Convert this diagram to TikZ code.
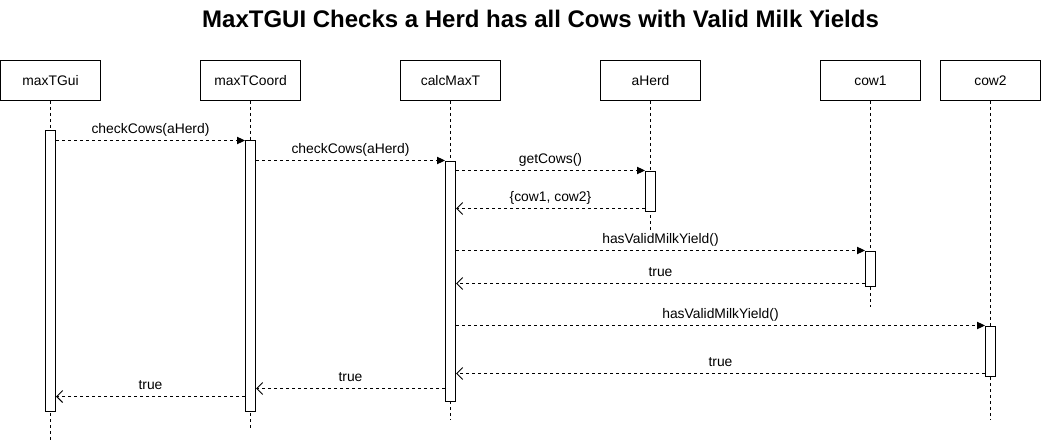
\documentclass[tikz,border=0pt]{standalone}
\usepackage{fontspec}
\setmainfont{Liberation Sans}
\usetikzlibrary{arrows.meta}
\begin{document}
\begin{tikzpicture}[x=0.75pt,y=-0.75pt,
  every node/.style={font=\fontsize{10.4pt}{12pt}\selectfont},
  part/.style={draw,line width=0.75pt,minimum width=75pt,minimum height=30pt,inner sep=0pt,fill=white},
  act/.style={draw,line width=0.75pt,minimum width=7.5pt,inner sep=0pt,fill=white,anchor=north},
  life/.style={line width=0.75pt,dash pattern=on 2.25pt off 2.25pt},
  call/.style={line width=0.75pt,dash pattern=on 2.25pt off 2.25pt,-{Triangle[length=6pt,width=5.5pt]}},
  ret/.style={line width=0.75pt,dash pattern=on 2.25pt off 2.25pt,-{Straight Barb[length=4.5pt,width=9pt]}},
  lbl/.style={midway,above=3pt,inner sep=0pt,text depth=2.2pt}]
\useasboundingbox (0,0) rectangle (1041,442);
\node[font=\bfseries\fontsize{18pt}{21pt}\selectfont] (title) at (540.5,19) {MaxTGUI Checks a Herd has all Cows with Valid Milk Yields};
% participants
\node[part] (p1) at (50.5,80.5) {maxTGui};
\node[part] (p2) at (250.5,80.5) {maxTCoord};
\node[part] (p3) at (450.5,80.5) {calcMaxT};
\node[part] (p4) at (650.5,80.5) {aHerd};
\node[part] (p5) at (870.5,80.5) {cow1};
\node[part] (p6) at (990.5,80.5) {cow2};
% lifeline ends
\coordinate (e1) at (50.5,442);
\coordinate (e2) at (250.5,428);
\coordinate (e3) at (450.5,420);
\coordinate (e4) at (650.5,230);
\coordinate (e5) at (870.5,307);
\coordinate (e6) at (990.5,420);
\foreach \i in {1,...,6} \draw[life] (p\i.south) -- (e\i);
% activations
\node[act,minimum height=210pt] (a1) at (50.5,130.5) {};
\node[act,minimum height=202.5pt] (a2) at (250.5,140.5) {};
\node[act,minimum height=180pt] (a3) at (450.5,160.5) {};
\node[act,minimum height=30pt] (a4) at (650.5,170.5) {};
\node[act,minimum height=26.25pt] (a5) at (870.5,250.5) {};
\node[act,minimum height=37.5pt] (a6) at (990.5,325.5) {};
% messages
\draw[call] (a1.east |- 0,140.5) -- (a2.west |- 0,140.5) node[lbl] {checkCows(aHerd)};
\draw[call] (a2.east |- 0,160.5) -- (a3.west |- 0,160.5) node[lbl] {checkCows(aHerd)};
\draw[call] (a3.east |- 0,170.5) -- (a4.west |- 0,170.5) node[lbl] {getCows()};
\draw[ret] (a4.west |- 0,208.5) -- (a3.east |- 0,208.5) node[lbl] {\{cow1, cow2\}};
\draw[call] (a3.east |- 0,250.5) -- (a5.west |- 0,250.5) node[lbl] {hasValidMilkYield()};
\draw[ret] (a5.west |- 0,283.5) -- (a3.east |- 0,283.5) node[lbl] {true};
\draw[call] (a3.east |- 0,325.5) -- (a6.west |- 0,325.5) node[lbl] {hasValidMilkYield()};
\draw[ret] (a6.west |- 0,373.5) -- (a3.east |- 0,373.5) node[lbl] {true};
\draw[ret] (a3.west |- 0,388.5) -- (a2.east |- 0,388.5) node[lbl] {true};
\draw[ret] (a2.west |- 0,396.5) -- (a1.east |- 0,396.5) node[lbl] {true};
\end{tikzpicture}
\end{document}
